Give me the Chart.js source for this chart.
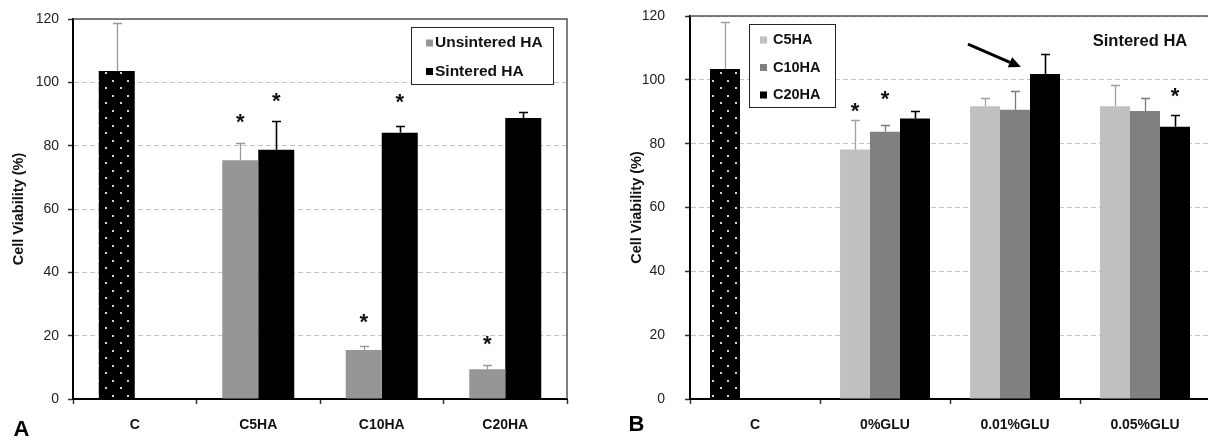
<!DOCTYPE html>
<html>
<head>
<meta charset="utf-8">
<title>Cell viability</title>
<script src="https://cdn.jsdelivr.net/npm/chart.js@4.4.0/dist/chart.umd.min.js"></script>
<style>
  html, body { margin: 0; padding: 0; background: #fff; overflow: hidden; }
  #wrap { position: relative; width: 1208px; height: 441px; overflow: hidden; }
  #chartA { position: absolute; left: 0; top: 0; }
  #chartB { position: absolute; left: 600px; top: 0; }
</style>
</head>
<body>
<div id="wrap">
  <canvas id="chartA" width="600" height="441"></canvas>
  <canvas id="chartB" width="620" height="441"></canvas>
</div>
<script>
// Panel A: unsintered vs sintered HA
const groupsA = ['C', 'C5HA', 'C10HA', 'C20HA'];
const unsinteredA = [103.6, 75.4, 15.5, 9.4];
const unsinteredErrA = [15.0, 5.6, 1.3, 1.2];
const sinteredA = [null, 78.7, 84.1, 88.7];
const sinteredErrA = [null, 9.1, 2.2, 1.8];
// height (in %) where the significance asterisk sits
const starsUnsinteredA = [null, 88.9, 25.6, 18.6];
const starsSinteredA = [null, 95.4, 95.0, null];

// Panel B: sintered HA with glutaraldehyde
const groupsB = ['C', '0%GLU', '0.01%GLU', '0.05%GLU'];
const c5haB = [103.4, 78.2, 91.7, 91.7];
const c5haErrB = [14.6, 9.2, 2.5, 6.7];
const c10haB = [null, 83.7, 90.6, 90.2];
const c10haErrB = [null, 2.0, 6.0, 4.0];
const c20haB = [null, 87.9, 101.8, 85.3];
const c20haErrB = [null, 2.2, 6.2, 3.7];
const starsC5haB = [null, 91.6, null, null];
const starsC10haB = [null, 95.3, null, null];
const starsC20haB = [null, null, null, 96.3];

const yTicks = [0, 20, 40, 60, 80, 100, 120];

const FONT = '"Liberation Sans", Arial, Helvetica, sans-serif';

// black fill with small offset white dots for the control bar
function dottedFill(canvas) {
  const tile = document.createElement('canvas');
  tile.width = 15;
  tile.height = 15;
  const t = tile.getContext('2d');
  t.fillStyle = '#000';
  t.fillRect(0, 0, 15, 15);
  t.fillStyle = '#d6d6d6';
  t.fillRect(0, 12, 2, 2);
  t.fillRect(7, 5, 2, 2);
  return canvas.getContext('2d').createPattern(tile, 'repeat');
}

// error bars, asterisks, frame, legend box and labels
const decor = {
  id: 'decor',
  afterDatasetsDraw(chart) {
    const ctx = chart.ctx;
    const y = chart.scales.y;
    chart.data.datasets.forEach((ds, di) => {
      const meta = chart.getDatasetMeta(di);
      meta.data.forEach((bar, i) => {
        const v = ds.data[i];
        if (v == null) return;
        const e = ds.errors ? ds.errors[i] : null;
        if (e != null) {
          const top = Math.round(y.getPixelForValue(v + e)) + 0.5;
          const x = Math.round(bar.x) + 0.5;
          ctx.save();
          ctx.strokeStyle = ds.errorColor;
          ctx.lineWidth = ds.errorWidth;
          ctx.beginPath();
          ctx.moveTo(x, bar.y);
          ctx.lineTo(x, top);
          ctx.moveTo(x - 4.5, top);
          ctx.lineTo(x + 4.5, top);
          ctx.stroke();
          ctx.restore();
        }
        const s = ds.stars ? ds.stars[i] : null;
        if (s != null) {
          ctx.save();
          ctx.fillStyle = '#111';
          ctx.font = 'bold 22px ' + FONT;
          ctx.textAlign = 'center';
          ctx.textBaseline = 'middle';
          ctx.fillText('*', bar.x, y.getPixelForValue(s) + 5);
          ctx.restore();
        }
      });
    });
  },
  afterDraw(chart, args, opts) {
    const ctx = chart.ctx;
    const area = chart.chartArea;
    ctx.save();

    // top and right frame lines
    ctx.strokeStyle = '#555';
    ctx.lineWidth = 1.5;
    ctx.beginPath();
    ctx.moveTo(area.left, area.top);
    ctx.lineTo(area.right, area.top);
    ctx.lineTo(area.right, area.bottom);
    ctx.stroke();

    // legend box
    const lg = opts.legend;
    ctx.fillStyle = '#fff';
    ctx.fillRect(lg.box[0], lg.box[1], lg.box[2] - lg.box[0], lg.box[3] - lg.box[1]);
    ctx.strokeStyle = '#222';
    ctx.lineWidth = 1;
    ctx.strokeRect(lg.box[0] + 0.5, lg.box[1] + 0.5, lg.box[2] - lg.box[0], lg.box[3] - lg.box[1]);
    ctx.font = 'bold ' + lg.size + 'px ' + FONT;
    ctx.textBaseline = 'middle';
    ctx.textAlign = 'left';
    chart.data.datasets.forEach((ds, i) => {
      const ry = lg.rows[i];
      ctx.fillStyle = ds.swatch;
      ctx.fillRect(lg.swatchX, ry - 3.5, 7, 7);
      ctx.fillStyle = '#111';
      ctx.fillText(ds.label, lg.textX, ry);
    });

    // panel letter
    ctx.fillStyle = '#000';
    ctx.font = 'bold 22px ' + FONT;
    ctx.textAlign = 'center';
    ctx.fillText(opts.letter.text, opts.letter.x, opts.letter.y);

    // optional note and arrow
    if (opts.note) {
      ctx.font = 'bold 16.5px ' + FONT;
      ctx.fillStyle = '#111';
      ctx.fillText(opts.note.text, opts.note.x, opts.note.y);
    }
    if (opts.arrow) {
      const a = opts.arrow;
      const bar = chart.getDatasetMeta(a.dataset).data[a.index];
      const tipX = bar.x - bar.width / 2 + a.dx;
      const tipY = chart.scales.y.getPixelForValue(a.value);
      const tailX = tipX + a.tail[0];
      const tailY = tipY + a.tail[1];
      const ang = Math.atan2(tipY - tailY, tipX - tailX);
      const headLen = 12;
      const baseX = tipX - headLen * Math.cos(ang);
      const baseY = tipY - headLen * Math.sin(ang);
      ctx.strokeStyle = '#000';
      ctx.lineWidth = 3;
      ctx.beginPath();
      ctx.moveTo(tailX, tailY);
      ctx.lineTo(baseX, baseY);
      ctx.stroke();
      ctx.fillStyle = '#000';
      ctx.beginPath();
      ctx.moveTo(tipX, tipY);
      ctx.lineTo(baseX + 5.5 * Math.sin(ang), baseY - 5.5 * Math.cos(ang));
      ctx.lineTo(baseX - 5.5 * Math.sin(ang), baseY + 5.5 * Math.cos(ang));
      ctx.closePath();
      ctx.fill();
    }
    ctx.restore();
  }
};

function buildOptions(cfg) {
  return {
    responsive: false,
    animation: false,
    layout: { padding: { top: cfg.top, right: cfg.right, left: 0, bottom: 0 } },
    datasets: { bar: { barPercentage: 1, categoryPercentage: cfg.catPct } },
    plugins: {
      legend: { display: false },
      tooltip: { enabled: false },
      decor: cfg.decor
    },
    scales: {
      x: {
        grid: { display: true, drawOnChartArea: false, drawTicks: true, tickLength: 5, tickColor: '#333', tickWidth: 1.5, offset: true },
        border: { color: '#000', width: 2 },
        ticks: { font: { family: FONT, size: 14, weight: 'bold' }, color: '#111', padding: 13, maxRotation: 0, autoSkip: false },
        afterFit: s => { s.height = 42; }
      },
      y: {
        min: 0,
        max: 120,
        afterBuildTicks: s => { s.ticks = yTicks.map(v => ({ value: v })); },
        grid: { color: '#c4c4c4', lineWidth: 1, tickLength: 5, tickColor: '#333', tickWidth: 1.5, tickBorderDash: [] },
        border: { color: '#000', width: 2, dash: [5, 3] },
        ticks: { font: { family: FONT, size: 14 }, color: '#222', padding: cfg.tickPad },
        title: {
          display: true,
          text: 'Cell Viability (%)',
          font: { family: FONT, size: 14.5, weight: 'bold' },
          color: '#111',
          padding: { top: cfg.titlePad, bottom: 0 }
        },
        afterFit: s => {
          s.width = cfg.axisW;
          // keep the wide label gap from pushing the plot down
          s.paddingTop = 8;
          s.paddingBottom = 8;
        }
      }
    }
  };
}

const canvasA = document.getElementById('chartA');
const canvasB = document.getElementById('chartB');

new Chart(canvasA, {
  type: 'bar',
  data: {
    labels: groupsA,
    datasets: [
      {
        label: 'Unsintered HA',
        data: unsinteredA,
        backgroundColor: [dottedFill(canvasA), '#969696', '#969696', '#969696'],
        swatch: '#969696',
        errors: unsinteredErrA,
        errorColor: '#9a9a9a',
        errorWidth: 1.3,
        stars: starsUnsinteredA
      },
      {
        label: 'Sintered HA',
        data: sinteredA,
        backgroundColor: '#000',
        swatch: '#000',
        errors: sinteredErrA,
        errorColor: '#000',
        errorWidth: 1.6,
        stars: starsSinteredA
      }
    ]
  },
  options: buildOptions({
    top: 19, right: 33, axisW: 73, tickPad: 9, titlePad: 10, catPct: 0.583,
    decor: {
      legend: { box: [411, 27, 553, 84], swatchX: 426, textX: 435, rows: [43, 71.5], size: 15.5 },
      letter: { text: 'A', x: 21.5, y: 430 }
    }
  }),
  plugins: [decor]
});

new Chart(canvasB, {
  type: 'bar',
  data: {
    labels: groupsB,
    datasets: [
      {
        label: 'C5HA',
        data: c5haB,
        backgroundColor: [dottedFill(canvasB), '#c0c0c0', '#c0c0c0', '#c0c0c0'],
        swatch: '#c0c0c0',
        errors: c5haErrB,
        errorColor: '#a0a0a0',
        errorWidth: 1.3,
        stars: starsC5haB
      },
      {
        label: 'C10HA',
        data: c10haB,
        backgroundColor: '#808080',
        swatch: '#808080',
        errors: c10haErrB,
        errorColor: '#7a7a7a',
        errorWidth: 1.3,
        stars: starsC10haB
      },
      {
        label: 'C20HA',
        data: c20haB,
        backgroundColor: '#000',
        swatch: '#000',
        errors: c20haErrB,
        errorColor: '#000',
        errorWidth: 1.6,
        stars: starsC20haB
      }
    ]
  },
  options: buildOptions({
    top: 16, right: 10, axisW: 90, tickPad: 20, titlePad: 28, catPct: 0.692,
    decor: {
      legend: { box: [149, 24, 235, 107], swatchX: 160, textX: 173, rows: [40, 67.5, 95], size: 14.5 },
      letter: { text: 'B', x: 36.5, y: 425 },
      note: { text: 'Sintered HA', x: 540, y: 41 },
      arrow: { dataset: 2, index: 2, value: 104, dx: -9, tail: [-53, -23] }
    }
  }),
  plugins: [decor]
});
</script>
</body>
</html>
